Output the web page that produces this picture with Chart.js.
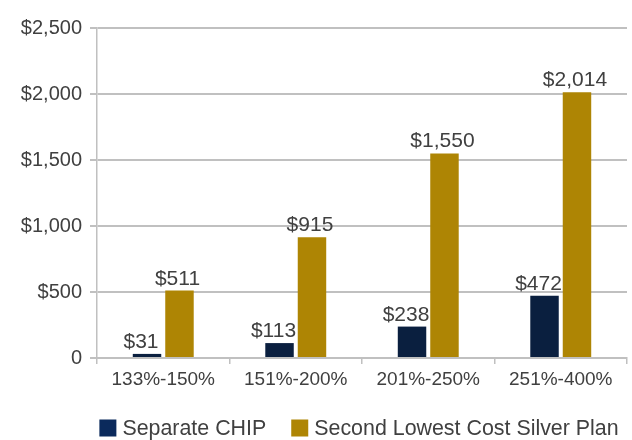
<!DOCTYPE html>
<html>
<head>
<meta charset="utf-8">
<script src="https://cdn.jsdelivr.net/npm/chart.js@4"></script>
<style>
    html, body { margin: 0; padding: 0; background: #fff; }
    #wrap { width: 632px; height: 440px; }
</style>
</head>
<body>
<div id="wrap"><canvas id="costChart" width="632" height="440"></canvas></div>
<script>
const categories = ['133%-150%', '151%-200%', '201%-250%', '251%-400%'];
const chipValues = [31, 113, 238, 472];
const silverValues = [511, 915, 1550, 2014];
const seriesNames = ['Separate CHIP', 'Second Lowest Cost Silver Plan'];

const textColor = '#404040';
const gridColor = '#c0c0c0';
const fontFamily = '"Liberation Sans", Arial, Helvetica, sans-serif';

function money(v) {
    return '$' + v.toLocaleString('en-US');
}

// value labels above each bar
const barLabels = {
    id: 'barLabels',
    afterDatasetsDraw(chart) {
        const ctx = chart.ctx;
        ctx.save();
        ctx.font = '21px ' + fontFamily;
        ctx.fillStyle = textColor;
        ctx.textAlign = 'center';
        ctx.textBaseline = 'alphabetic';
        chart.data.datasets.forEach((ds, i) => {
            const meta = chart.getDatasetMeta(i);
            const shift = i === 0 ? -6 : -2;
            meta.data.forEach((bar, j) => {
                ctx.fillText(money(ds.data[j]), bar.x + shift, bar.y - 6);
            });
        });
        ctx.restore();
    }
};

// legend drawn by hand so the spacing matches
const bottomLegend = {
    id: 'bottomLegend',
    afterDraw(chart) {
        const ctx = chart.ctx;
        const box = 17, gapText = 6, gapItem = 25;
        ctx.save();
        ctx.font = '21.4px ' + fontFamily;
        ctx.textBaseline = 'middle';
        ctx.textAlign = 'left';
        const items = chart.data.datasets.map(ds => ({
            text: ds.label,
            color: ds.legendColor,
            w: box + gapText + ctx.measureText(ds.label).width
        }));
        const total = items.reduce((s, it) => s + it.w, 0) + gapItem * (items.length - 1);
        let x = (chart.chartArea.left + chart.chartArea.right) / 2 - total / 2 - 3;
        const y = 428;
        items.forEach(it => {
            ctx.fillStyle = it.color;
            ctx.fillRect(x, y - box / 2, box, box);
            ctx.fillStyle = textColor;
            ctx.fillText(it.text, x + box + gapText, y + 1);
            x += it.w + gapItem;
        });
        ctx.restore();
    }
};

new Chart(document.getElementById('costChart'), {
    type: 'bar',
    data: {
        labels: categories,
        datasets: [{
            label: seriesNames[0],
            data: chipValues,
            backgroundColor: '#0a1f3f',
            legendColor: '#0b2a5c',
            categoryPercentage: 0.49,
            barPercentage: 0.877
        }, {
            label: seriesNames[1],
            data: silverValues,
            backgroundColor: '#ae8504',
            legendColor: '#ae8504',
            categoryPercentage: 0.49,
            barPercentage: 0.877
        }]
    },
    options: {
        responsive: false,
        animation: false,
        layout: {
            padding: { top: 28, right: 5, bottom: 0, left: 0 }
        },
        plugins: {
            legend: { display: false },
            tooltip: { enabled: false }
        },
        scales: {
            x: {
                grid: {
                    display: true,
                    drawOnChartArea: false,
                    drawTicks: true,
                    tickLength: 6,
                    color: gridColor,
                    lineWidth: 1.5
                },
                border: { color: gridColor, width: 2 },
                ticks: {
                    color: textColor,
                    font: { family: fontFamily, size: 19 },
                    padding: 4
                },
                afterFit(scale) { scale.height = 82; }
            },
            y: {
                min: 0,
                max: 2500,
                grid: {
                    color: gridColor,
                    lineWidth: 2,
                    tickLength: 7
                },
                border: { color: gridColor, width: 1.5 },
                ticks: {
                    stepSize: 500,
                    color: textColor,
                    padding: 8,
                    font: { family: fontFamily, size: 20 },
                    callback: v => v === 0 ? '0' : money(v)
                },
                afterFit(scale) { scale.width = 97; }
            }
        }
    },
    plugins: [barLabels, bottomLegend]
});
</script>
</body>
</html>
